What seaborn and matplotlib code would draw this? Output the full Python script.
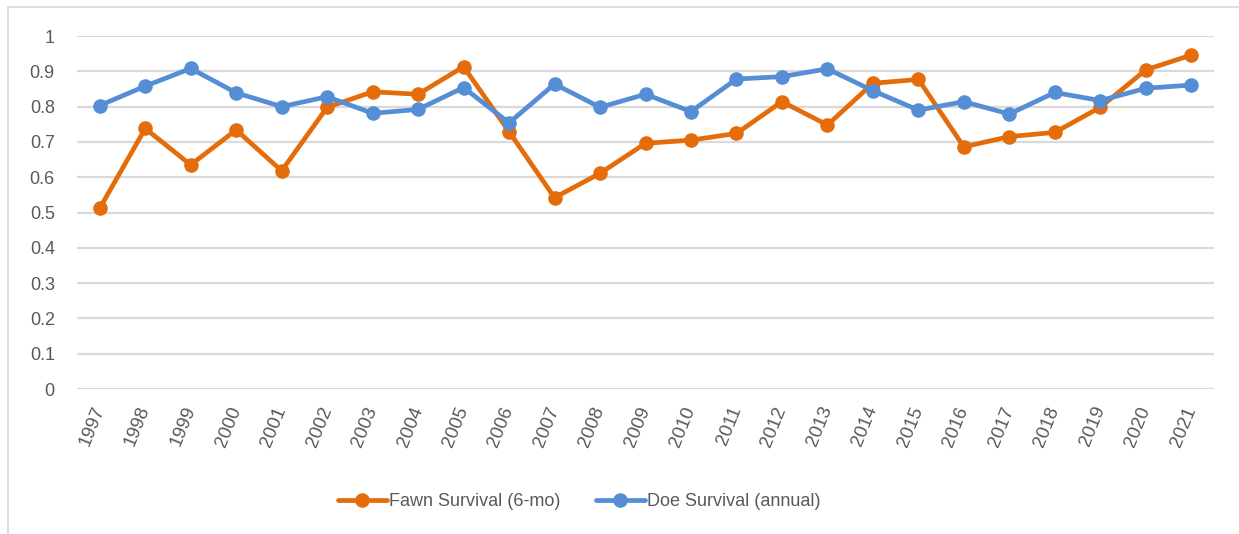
import matplotlib
matplotlib.use("Agg")
import matplotlib.pyplot as plt
import numpy as np
import pandas as pd
import seaborn as sns
from matplotlib.patches import Rectangle

# ---- data ----
years = [str(y) for y in range(1997, 2022)]
fawn_survival = [0.512, 0.738, 0.635, 0.734, 0.618, 0.798, 0.842, 0.835, 0.913, 0.729,
                 0.542, 0.611, 0.696, 0.705, 0.724, 0.814, 0.748, 0.866, 0.877, 0.686,
                 0.715, 0.727, 0.798, 0.904, 0.946]
doe_survival = [0.803, 0.858, 0.908, 0.839, 0.800, 0.828, 0.781, 0.792, 0.854, 0.754,
                0.864, 0.798, 0.835, 0.786, 0.878, 0.885, 0.907, 0.845, 0.790, 0.814,
                0.779, 0.840, 0.817, 0.852, 0.861]
series_names = ["Fawn Survival (6-mo)", "Doe Survival (annual)"]
series_colors = ["#E46C0A", "#558ED5"]

df = pd.concat([
    pd.DataFrame({"year": years, "value": fawn_survival, "series": series_names[0]}),
    pd.DataFrame({"year": years, "value": doe_survival, "series": series_names[1]}),
])

sns.set_style("white")
plt.rcParams["font.family"] = ["Liberation Sans", "DejaVu Sans"]

W, H = 1239, 534
fig = plt.figure(figsize=(W / 100, H / 100), dpi=100)
ax = fig.add_axes([77 / W, 1 - 389 / H, (1214 - 77) / W, (389 - 36) / H])

# chart border (only top and left visible in the crop)
fig.patches.append(Rectangle((8 / W, -0.05), 1.1, 1 - 7 / H + 0.05, transform=fig.transFigure,
                             fill=False, edgecolor="#D9D9D9", linewidth=1.2))

sns.lineplot(data=df, x="year", y="value", hue="series", palette=series_colors,
             hue_order=series_names, sort=False, marker="o", markersize=10.5,
             markeredgewidth=0, linewidth=3.4, ax=ax, legend=True)

ax.set_xlim(-0.5, len(years) - 0.5)
ax.set_ylim(0, 1)
ax.set_yticks(np.arange(0, 1.01, 0.1))
ax.set_yticklabels(["0"] + [f"{v:.1f}" for v in np.arange(0.1, 0.95, 0.1)] + ["1"])
ax.grid(axis="y", color="#D9D9D9", linewidth=1.6)
ax.set_axisbelow(True)
for s in ax.spines.values():
    s.set_visible(False)
ax.set_xlabel("")
ax.set_ylabel("")
ax.tick_params(axis="y", length=0, pad=16, labelsize=13, labelcolor="#595959")
ax.tick_params(axis="x", length=0, pad=13, labelsize=13.5, labelcolor="#595959")
for lab in ax.get_xticklabels():
    lab.set_rotation(68)
    lab.set_ha("right")
    lab.set_va("center")
    lab.set_rotation_mode("anchor")

handles, labels = ax.get_legend_handles_labels()
ax.get_legend().remove()
fig.legend(handles, labels, loc="center", bbox_to_anchor=(579 / W, 1 - 502 / H),
           ncol=2, frameon=False, fontsize=13, handlelength=2.7, handletextpad=0.1,
           columnspacing=2.0, labelcolor="#595959")

fig.savefig("out.png", dpi=100)
